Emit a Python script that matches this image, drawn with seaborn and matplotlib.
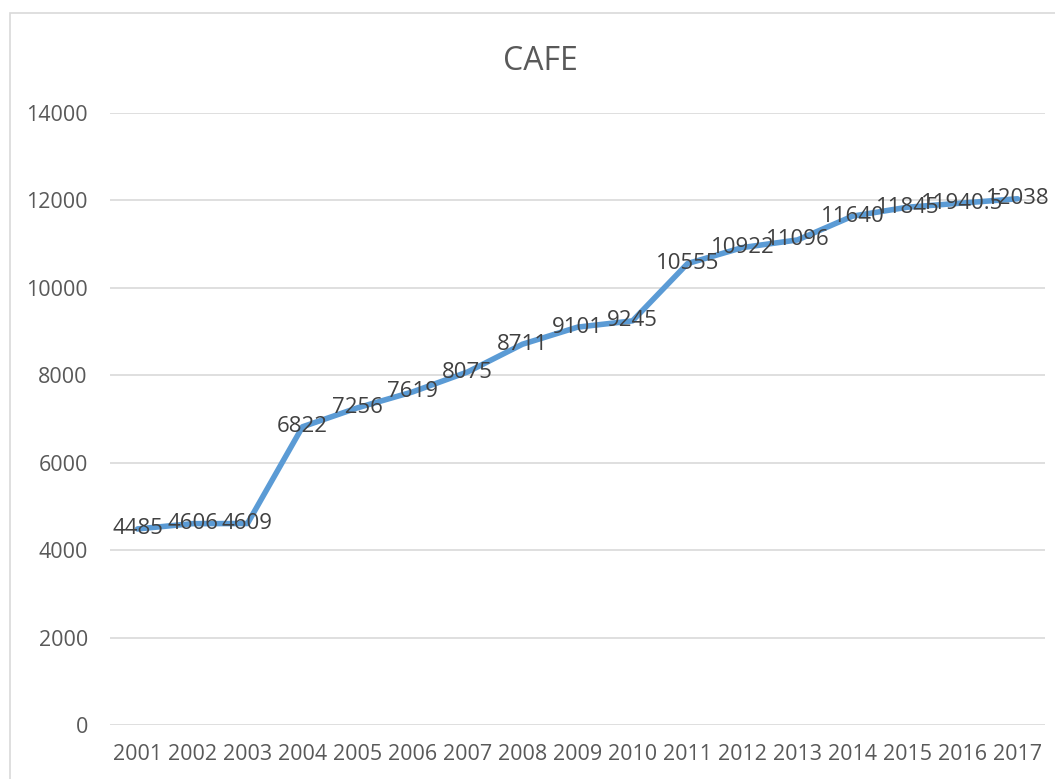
import numpy as np
import pandas as pd
import matplotlib.pyplot as plt
from matplotlib.patches import Rectangle
import seaborn as sns

# CAFE values per year
years = [2001, 2002, 2003, 2004, 2005, 2006, 2007, 2008, 2009,
         2010, 2011, 2012, 2013, 2014, 2015, 2016, 2017]
cafe = [4485, 4606, 4609, 6822, 7256, 7619, 8075, 8711, 9101,
        9245, 10555, 10922, 11096, 11640, 11845, 11940.5, 12038]
yticks = [0, 2000, 4000, 6000, 8000, 10000, 12000, 14000]

df = pd.DataFrame({'year': years, 'cafe': cafe})

sns.set_style("white")
plt.rcParams['font.family'] = ['Open Sans', 'DejaVu Sans']

fig = plt.figure(figsize=(10.55, 7.79), dpi=100)
ax = fig.add_axes([110/1055, 1-725/779, 935/1055, 612/779])

# outer chart border
fig.patches.append(Rectangle((10/1055, -0.1), 1.2, 1-13/779+0.1,
                             transform=fig.transFigure, fill=False,
                             edgecolor='#D9D9D9', linewidth=1.2))

sns.lineplot(data=df, x='year', y='cafe', ax=ax, color='#5B9BD5',
             linewidth=4, solid_capstyle='round', solid_joinstyle='round')

for x, y in zip(years, cafe):
    ax.text(x, y, '{:g}'.format(y), ha='center', va='center',
            fontsize=16, color='#404040')

ax.set_xlim(years[0] - 0.5, years[-1] + 0.5)
ax.set_ylim(0, 14000)
ax.set_yticks(yticks)
ax.set_xticks(years)
ax.set_xticklabels([str(y) for y in years])
ax.yaxis.grid(True, color='#D9D9D9', linewidth=1.2)
ax.set_axisbelow(True)
for s in ax.spines.values():
    s.set_visible(False)
ax.tick_params(axis='both', length=0, labelsize=15.5, labelcolor='#595959')
ax.tick_params(axis='y', pad=16)
ax.tick_params(axis='x', pad=14)
ax.set_xlabel('')
ax.set_ylabel('')

fig.text(540/1055, 1-61/779, 'CAFE', ha='center', va='center',
         fontsize=23, color='#595959')

fig.savefig('out.png', dpi=100)
